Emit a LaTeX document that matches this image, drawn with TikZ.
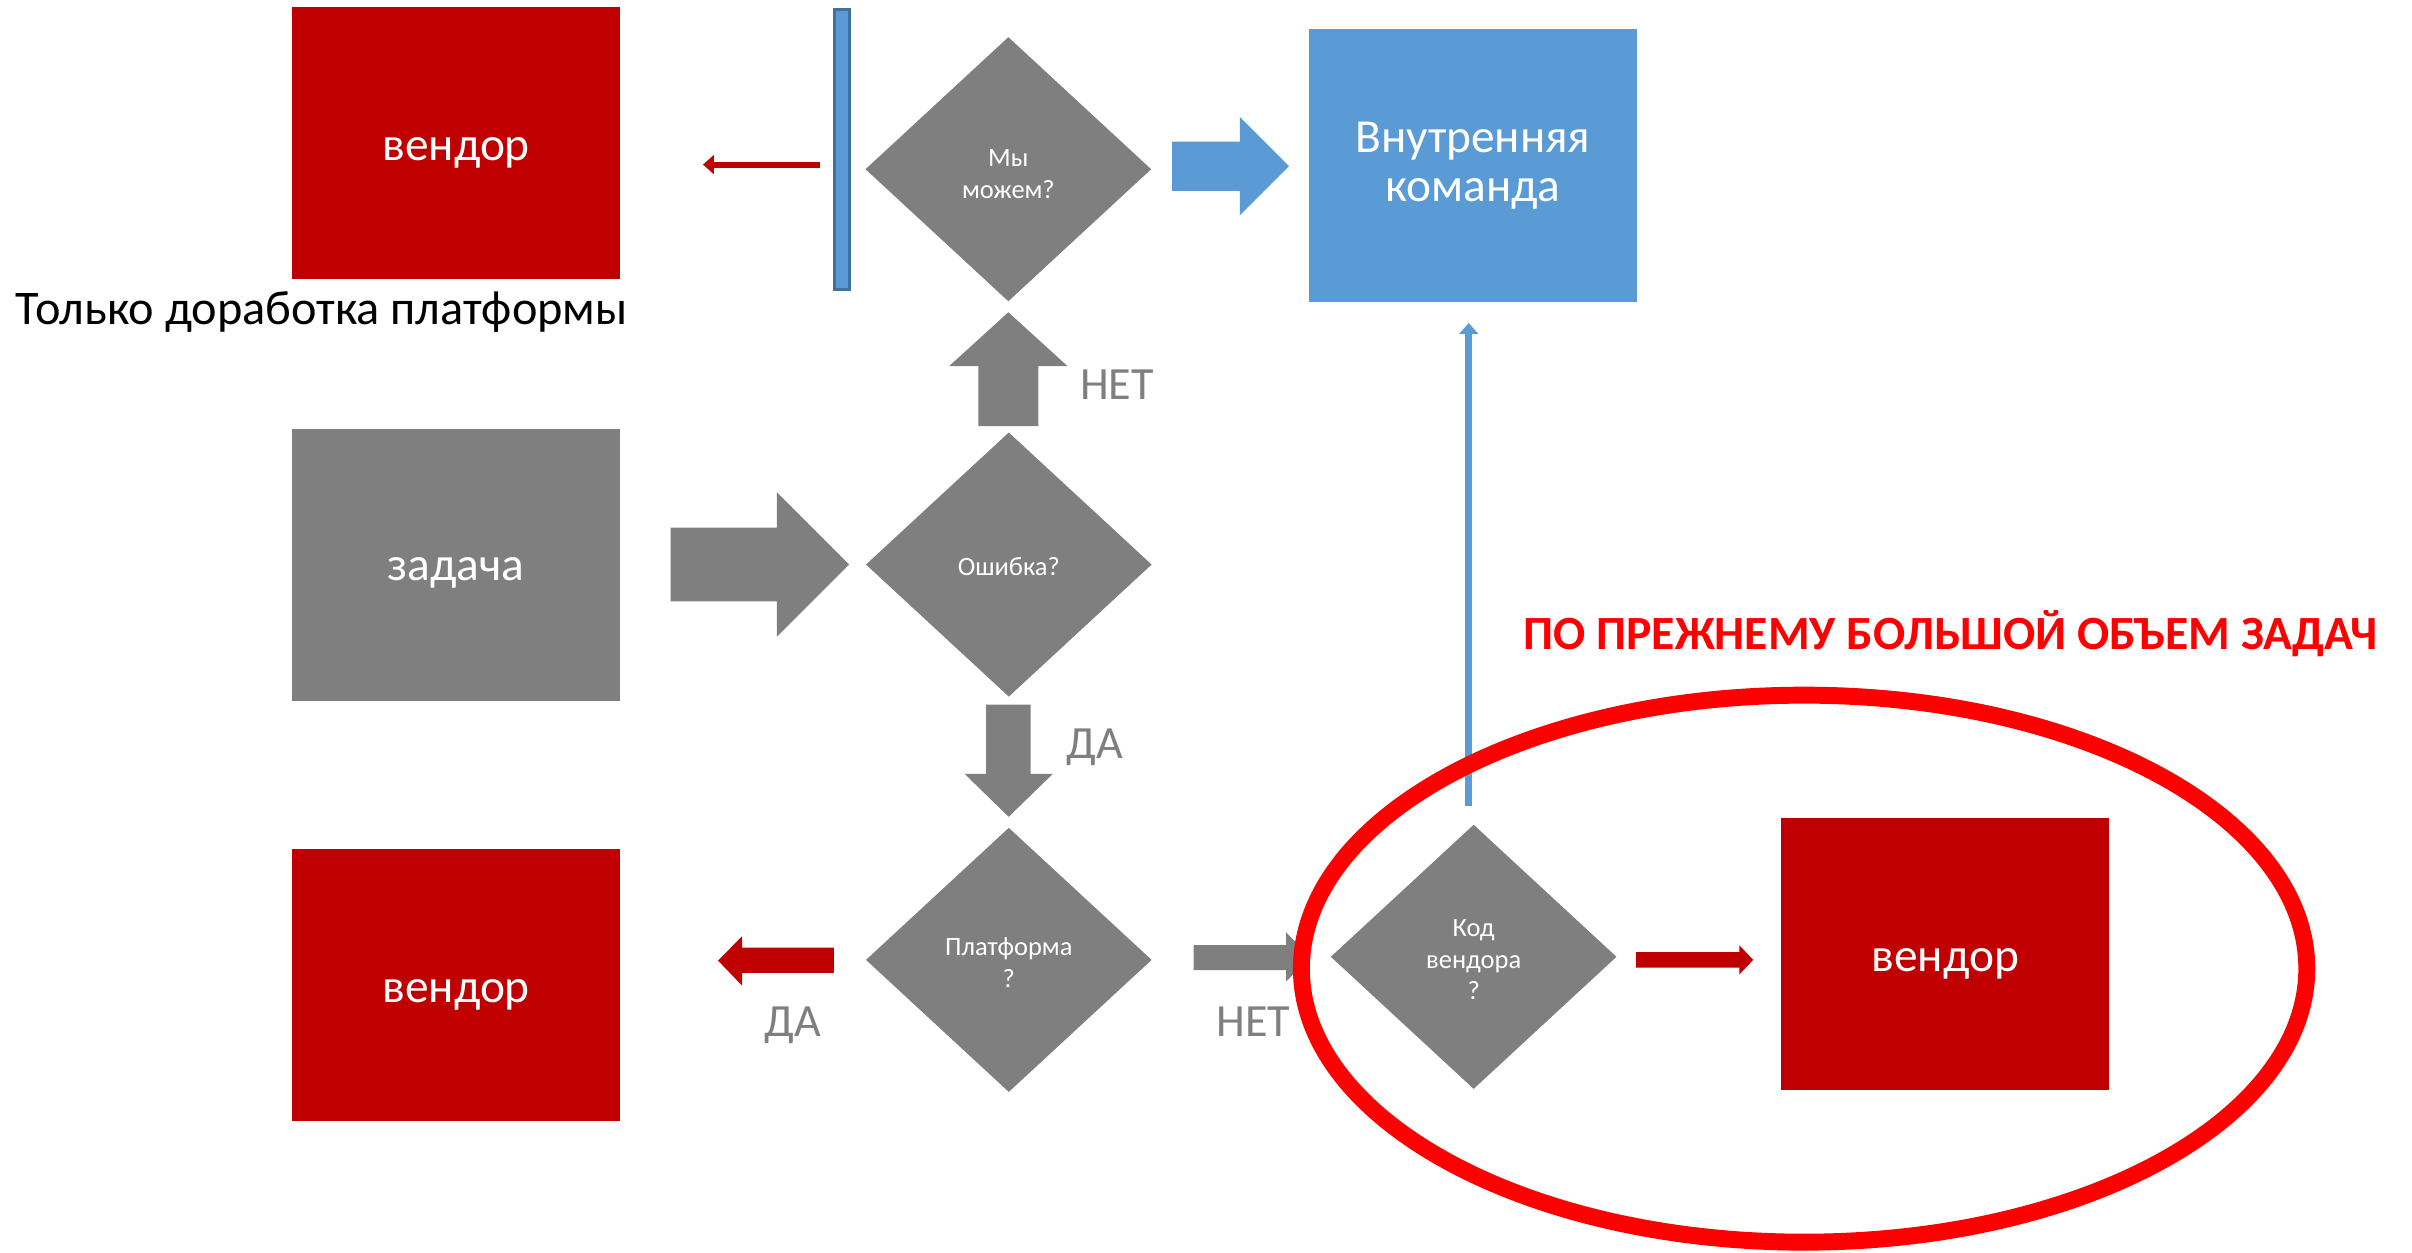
\documentclass[tikz,border=0pt]{standalone}
\usepackage{fontspec}
\setmainfont{Carlito}
\usetikzlibrary{shapes.geometric,arrows.meta}
\definecolor{vred}{HTML}{C00000}
\definecolor{vgray}{HTML}{7F7F7F}
\definecolor{vblue}{HTML}{5B9BD5}
\definecolor{vblueedge}{HTML}{41719C}
\definecolor{hired}{HTML}{FF0000}
\newcommand{\lowerby}[2]{\raisebox{-#1}[\height][\depth]{#2}}
\tikzset{
  bigbox/.style={rectangle, minimum width=106.5pt, minimum height=88.5pt, inner sep=0pt,
    text=white, align=center, font=\fontsize{15.4}{16}\selectfont},
  vendorbox/.style={bigbox, fill=vred},
  taskbox/.style={bigbox, fill=vgray},
  teambox/.style={bigbox, fill=vblue},
  decision/.style={diamond, fill=vgray, minimum width=93pt, minimum height=86pt, inner sep=0pt,
    text=white, align=center, font=\fontsize{8.6}{10.3}\selectfont},
  lbl/.style={text=vgray, font=\fontsize{15}{18}\selectfont, inner sep=0pt, anchor=base west},
  grayblock/.style={fill=vgray},
  redblock/.style={fill=vred},
  blueblock/.style={fill=vblue},
}
\begin{document}
\begin{tikzpicture}[x=0.5pt,y=-0.5pt]
\useasboundingbox (0,0) rectangle (1568,814);
% boxes
\node[vendorbox] (vendTL) at (296.5,93) {\lowerby{3.2pt}{вендор}};
\node[taskbox] (task) at (296.5,367.5) {\lowerby{2.6pt}{задача}};
\node[vendorbox] (vendBL) at (296.5,640.5) {\lowerby{3.2pt}{вендор}};
\node[teambox] (team) at (957.5,107.5) {\lowerby{0.2pt}{Внутренняя}\\\lowerby{0.2pt}{команда}};
\node[vendorbox] (vendR) at (1264.5,620) {\lowerby{3.2pt}{вендор}};
% decisions
\node[decision] (can) at (655.5,110) {\lowerby{1.5pt}{Мы}\\\lowerby{1.5pt}{можем?}};
\node[decision] (err) at (655.8,367) {\lowerby{0.8pt}{Ошибка?}};
\node[decision] (plat) at (655.8,624) {\lowerby{1pt}{Платформа}\\\lowerby{1pt}{?}};
\node[decision] (code) at (958,622) {\lowerby{1pt}{Код}\\\lowerby{1pt}{вендора}\\\lowerby{1pt}{?}};
% barrier
\node[rectangle, fill=vblue, draw=vblueedge, line width=1pt, minimum width=5pt, minimum height=91pt, inner sep=0pt] (bar) at (547.5,97) {};
% texts
\node[anchor=base west, inner sep=0pt, font=\fontsize{15.7}{19}\selectfont] (only) at (10,211) {Только доработка платформы};
\node[lbl] (net1) at (701.8,260) {НЕТ};
\node[lbl] (da1) at (693,493) {ДА};
\node[lbl] (da2) at (496.7,674) {ДА};
\node[lbl] (net2) at (790.6,674) {НЕТ};
\node[text=hired, font=\bfseries\fontsize{15.5}{18}\selectfont, inner sep=0pt] (title) at (1268,412) {ПО ПРЕЖНЕМУ БОЛЬШОЙ ОБЪЕМ ЗАДАЧ};
% block arrows
\fill[blueblock] (762,92) -- (806,92) -- (806,76) -- (838,108) -- (806,140) -- (806,124) -- (762,124) -- cycle;
\fill[grayblock] (636,277) -- (636,238) -- (617,238) -- (655.5,203) -- (694,238) -- (675,238) -- (675,277) -- cycle;
\fill[grayblock] (436,343) -- (505,343) -- (505,320) -- (552,367) -- (505,414) -- (505,391) -- (436,391) -- cycle;
\fill[grayblock] (641,458) -- (670,458) -- (670,503) -- (684.5,503) -- (655.7,531) -- (627,503) -- (641,503) -- cycle;
\fill[redblock] (542,616) -- (482.5,616) -- (482.5,608.5) -- (466.8,624.5) -- (482.5,640.8) -- (482.5,632.5) -- (542,632.5) -- cycle;
\fill[grayblock] (776,614.4) -- (836,614.4) -- (836,606) -- (852,622.5) -- (836,638) -- (836,630.6) -- (776,630.6) -- cycle;
\fill[redblock] (1063.6,619) -- (1130.7,619) -- (1130.7,614.5) -- (1139.7,624) -- (1130.7,633.5) -- (1130.7,629) -- (1063.6,629) -- cycle;
% thin arrows
\coordinate (r1s) at (533,107);
\coordinate (r1e) at (457,107);
\draw[vred, line width=2pt, -{Triangle[length=3.5pt,width=6pt]}] (r1s) -- (r1e);
\coordinate (b1s) at (954.8,524);
\coordinate (b1e) at (954.8,210);
\draw[vblue, line width=2.3pt, -{Triangle[length=3.5pt,width=6pt]}] (b1s) -- (b1e);
% highlight ellipse
\draw[hired, line width=5.5pt] (1172.8,629.7) ellipse [x radius=163.4pt, y radius=88.9pt];
\end{tikzpicture}
\end{document}
